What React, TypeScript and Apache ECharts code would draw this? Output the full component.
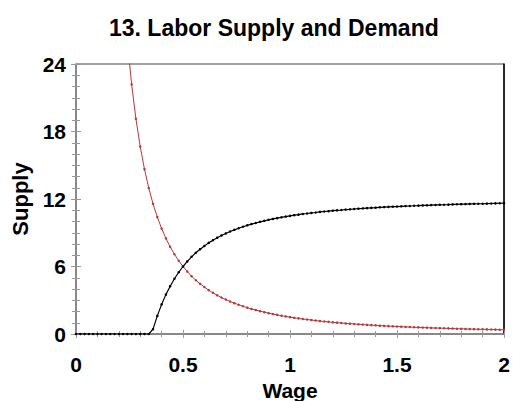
import React, { useEffect, useRef } from "react";
import * as echarts from "echarts";

const title = "13. Labor Supply and Demand";
const xName = "Wage";
const yName = "Supply";
const xTicks = [0, 0.5, 1, 1.5, 2];
const yTicks = [0, 6, 12, 18, 24];

const wage = [
  0.0, 0.02, 0.04, 0.06, 0.08, 0.1, 0.12, 0.14, 0.16, 0.18,
  0.2, 0.22, 0.24, 0.26, 0.28, 0.3, 0.32, 0.34, 0.36, 0.38,
  0.4, 0.42, 0.44, 0.46, 0.48, 0.5, 0.52, 0.54, 0.56, 0.58,
  0.6, 0.62, 0.64, 0.66, 0.68, 0.7, 0.72, 0.74, 0.76, 0.78,
  0.8, 0.82, 0.84, 0.86, 0.88, 0.9, 0.92, 0.94, 0.96, 0.98,
  1.0, 1.02, 1.04, 1.06, 1.08, 1.1, 1.12, 1.14, 1.16, 1.18,
  1.2, 1.22, 1.24, 1.26, 1.28, 1.3, 1.32, 1.34, 1.36, 1.38,
  1.4, 1.42, 1.44, 1.46, 1.48, 1.5, 1.52, 1.54, 1.56, 1.58,
  1.6, 1.62, 1.64, 1.66, 1.68, 1.7, 1.72, 1.74, 1.76, 1.78,
  1.8, 1.82, 1.84, 1.86, 1.88, 1.9, 1.92, 1.94, 1.96, 1.98,
  2.0,
];

const supply = [
  0, 0, 0, 0, 0, 0, 0, 0, 0, 0,
  0, 0, 0, 0, 0, 0, 0, 0, 0.43, 1.61,
  2.63, 3.5, 4.25, 4.91, 5.49, 6.0, 6.45, 6.86, 7.22, 7.54,
  7.83, 8.1, 8.34, 8.56, 8.76, 8.94, 9.11, 9.26, 9.4, 9.53,
  9.66, 9.77, 9.87, 9.97, 10.06, 10.15, 10.23, 10.3, 10.37, 10.44,
  10.5, 10.56, 10.61, 10.67, 10.71, 10.76, 10.8, 10.85, 10.89, 10.92,
  10.96, 10.99, 11.02, 11.06, 11.08, 11.11, 11.14, 11.16, 11.19, 11.21,
  11.23, 11.26, 11.28, 11.3, 11.32, 11.33, 11.35, 11.37, 11.38, 11.4,
  11.41, 11.43, 11.44, 11.46, 11.47, 11.48, 11.49, 11.5, 11.52, 11.53,
  11.54, 11.55, 11.56, 11.57, 11.58, 11.58, 11.59, 11.6, 11.61, 11.62,
  11.63,
];

const demand = [
  null, null, null, null, null, null, null, null, null, null,
  null, null, 26.04, 22.19, 19.13, 16.67, 14.65, 12.98, 11.57, 10.39,
  9.38, 8.5, 7.75, 7.09, 6.51, 6.0, 5.55, 5.14, 4.78, 4.46,
  4.17, 3.9, 3.66, 3.44, 3.24, 3.06, 2.89, 2.74, 2.6, 2.47,
  2.34, 2.23, 2.13, 2.03, 1.94, 1.85, 1.77, 1.7, 1.63, 1.56,
  1.5, 1.44, 1.39, 1.33, 1.29, 1.24, 1.2, 1.15, 1.11, 1.08,
  1.04, 1.01, 0.98, 0.94, 0.92, 0.89, 0.86, 0.84, 0.81, 0.79,
  0.77, 0.74, 0.72, 0.7, 0.68, 0.67, 0.65, 0.63, 0.62, 0.6,
  0.59, 0.57, 0.56, 0.54, 0.53, 0.52, 0.51, 0.5, 0.48, 0.47,
  0.46, 0.45, 0.44, 0.43, 0.42, 0.42, 0.41, 0.4, 0.39, 0.38,
  0.38,
];

const FONT = "'Liberation Sans', Arial, sans-serif";
const AXIS_GRAY = "#808080";
const TICK_GRAY = "#9a9a9a";

export default function App() {
  const ref = useRef<HTMLDivElement>(null);
  useEffect(() => {
    if (!ref.current) return;
    const chart = echarts.init(ref.current, undefined, { renderer: "svg" });
    const xMin = xTicks[0];
    const xMax = xTicks[xTicks.length - 1];
    const xInt = xTicks[1] - xTicks[0];
    const yMin = yTicks[0];
    const yMax = yTicks[yTicks.length - 1];
    const yInt = yTicks[1] - yTicks[0];

    const baseX = {
      type: "value",
      min: xMin,
      max: xMax,
      interval: xInt,
      splitLine: { show: false },
    };
    const baseY = {
      type: "value",
      min: yMin,
      max: yMax,
      interval: yInt,
      splitLine: { show: false },
    };

    chart.setOption({
      animation: false,
      backgroundColor: "#fff",
      title: {
        text: title,
        left: 104,
        top: 11,
        textStyle: { fontFamily: FONT, fontWeight: "bold", fontSize: 23, color: "#000" },
      },
      grid: {
        left: 76,
        right: 9,
        top: 64,
        bottom: 67,
        containLabel: false,
        outerBoundsMode: "none",
        show: true,
        borderColor: "#444",
        borderWidth: 1,
        backgroundColor: "transparent",
      },
      xAxis: [
        {
          ...baseX,
          position: "bottom",
          name: xName,
          nameLocation: "middle",
          nameGap: 40,
          nameTextStyle: { fontFamily: FONT, fontWeight: "bold", fontSize: 21, color: "#000" },
          axisLine: { show: true, lineStyle: { color: AXIS_GRAY, width: 1.5 } },
          axisTick: { show: true, length: 4, lineStyle: { color: TICK_GRAY } },
          minorTick: { show: true, splitNumber: 5, length: 3, lineStyle: { color: TICK_GRAY } },
          axisLabel: {
            margin: 20,
            fontFamily: FONT,
            fontWeight: "bold",
            fontSize: 21,
            color: "#000",
            formatter: (v: number) => String(v),
          },
        },
        {
          ...baseX,
          position: "bottom",
          axisLine: { show: false },
          axisTick: { show: true, inside: true, length: 4, lineStyle: { color: TICK_GRAY } },
          minorTick: { show: true, splitNumber: 5, length: 3, lineStyle: { color: TICK_GRAY } },
          axisLabel: { show: false },
        },
      ],
      yAxis: [
        {
          ...baseY,
          position: "left",
          name: yName,
          nameLocation: "middle",
          nameGap: 41,
          nameTextStyle: { fontFamily: FONT, fontWeight: "bold", fontSize: 22, color: "#000" },
          axisLine: { show: true, lineStyle: { color: AXIS_GRAY, width: 1.5 } },
          axisTick: { show: true, length: 5, lineStyle: { color: TICK_GRAY } },
          minorTick: { show: true, splitNumber: 6, length: 4, lineStyle: { color: TICK_GRAY } },
          axisLabel: {
            margin: 10,
            fontFamily: FONT,
            fontWeight: "bold",
            fontSize: 21,
            color: "#000",
          },
        },
        {
          ...baseY,
          position: "left",
          axisLine: { show: false },
          axisTick: { show: true, inside: true, length: 5, lineStyle: { color: TICK_GRAY } },
          minorTick: { show: true, splitNumber: 6, length: 4, lineStyle: { color: TICK_GRAY } },
          axisLabel: { show: false },
        },
        {
          ...baseY,
          position: "right",
          axisLine: { show: true, lineStyle: { color: "#000", width: 1.5 } },
          axisTick: { show: false },
          axisLabel: { show: false },
        },
      ],
      series: [
        {
          type: "line",
          name: "Demand",
          data: wage.map((w, i) => [w, demand[i]]),
          xAxisIndex: 0,
          yAxisIndex: 0,
          clip: true,
          symbol: "circle",
          symbolSize: 2.5,
          showSymbol: true,
          lineStyle: { color: "#b53a3a", width: 1 },
          itemStyle: { color: "#b53a3a" },
          connectNulls: false,
        },
        {
          type: "line",
          name: "Supply",
          data: wage.map((w, i) => [w, supply[i]]),
          xAxisIndex: 0,
          yAxisIndex: 0,
          clip: true,
          symbol: "circle",
          symbolSize: 2.5,
          showSymbol: true,
          lineStyle: { color: "#000", width: 1.2 },
          itemStyle: { color: "#000" },
        },
      ],
    });
    return () => chart.dispose();
  }, []);
  return (
    <div
      ref={ref}
      style={{ position: "fixed", left: 0, top: 0, width: 513, height: 401 }}
    />
  );
}
